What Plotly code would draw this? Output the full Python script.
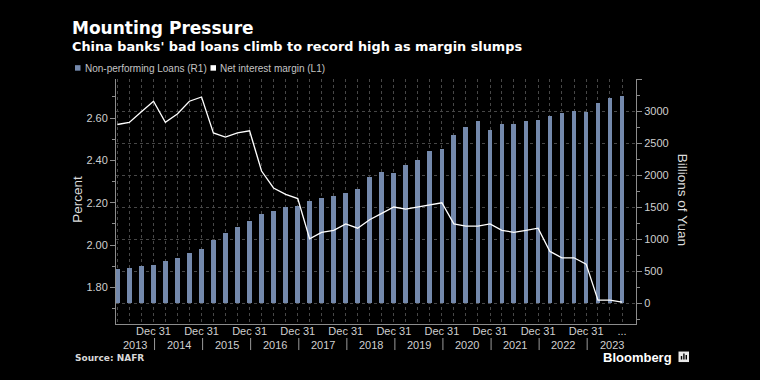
import plotly.graph_objects as go
import datetime as dt

# ---------------- data ----------------
quarter_ends = [f"{y}-{md}" for y in range(2013, 2024)
                for md in ["03-31", "06-30", "09-30", "12-31"]][:43]

npl_bn_yuan = [533, 549, 574, 600, 659, 706, 778, 847, 988, 1102, 1196, 1280,
               1400, 1443, 1500, 1521, 1589, 1646, 1672, 1719, 1785, 1965, 2043,
               2033, 2164, 2242, 2373, 2415, 2619, 2744, 2838, 2702, 2796, 2796,
               2838, 2854, 2917, 2964, 2995, 2989, 3121, 3199, 3230]

nim_pct = [2.57, 2.58, 2.63, 2.68, 2.58, 2.62, 2.68, 2.70, 2.53, 2.51, 2.53, 2.54,
           2.35, 2.27, 2.24, 2.22, 2.03, 2.06, 2.07, 2.10, 2.08, 2.12, 2.15, 2.18,
           2.17, 2.18, 2.19, 2.20, 2.10, 2.09, 2.09, 2.10, 2.07, 2.06, 2.07, 2.08,
           1.97, 1.94, 1.94, 1.91, 1.74, 1.74, 1.73]

year_labels = [str(y) for y in range(2013, 2024)]
right_ticks = [0, 500, 1000, 1500, 2000, 2500, 3000, 3500]
right_tick_text = ["0", "500", "1000", "1500", "2000", "2500", "3000", ""]

title = "Mounting Pressure"
subtitle = "China banks' bad loans climb to record high as margin slumps"
legend_npl = "Non-performing Loans (R1)"
legend_nim = "Net interest margin (L1)"
source = "Source: NAFR"

# ---------------- style ----------------
W, H = 760, 380
L, R, T, B = 116, 636, 79.3, 324
BAR_COLOR = "#7489ac"
AXIS_COLOR = "#8c8c8c"
GRID_COLOR = "#474747"
TICK_FONT = dict(family="Liberation Sans, Arial", size=11, color="#cfcfcf")
X_START, X_END = "2013-03-21", "2024-01-14"


def px(p):
    return (p - L) / (R - L)


def py(p):
    return (B - p) / (B - T)


x_ticktext = []
for i, d in enumerate(quarter_ends):
    if i == len(quarter_ends) - 1:
        x_ticktext.append("...")
    elif d.endswith("12-31"):
        x_ticktext.append("Dec 31")
    else:
        x_ticktext.append("")

fig = go.Figure()
fig.add_trace(go.Bar(
    x=quarter_ends, y=npl_bn_yuan, yaxis="y", name=legend_npl,
    marker=dict(color=BAR_COLOR, line=dict(width=0)),
    width=36 * 86400000, showlegend=False,
))
fig.add_trace(go.Scatter(
    x=quarter_ends, y=nim_pct, yaxis="y2", name=legend_nim, mode="lines",
    line=dict(color="#ffffff", width=1.3), showlegend=False,
))

fig.update_layout(
    width=W, height=H,
    margin=dict(l=L, r=W - R, t=T, b=H - B, pad=0),
    paper_bgcolor="#000000", plot_bgcolor="#000000",
    bargap=0,
    xaxis=dict(
        type="date", range=[X_START, X_END],
        tickmode="array", tickvals=quarter_ends, ticktext=x_ticktext,
        tickangle=0, ticks="", showgrid=True, gridcolor=GRID_COLOR,
        griddash="dot", gridwidth=1, showline=True, linecolor=AXIS_COLOR,
        linewidth=1, tickfont=TICK_FONT, zeroline=False,
        ticklabelstandoff=-3,
    ),
    yaxis=dict(
        side="right", range=[-325, 3500],
        tickmode="array", tickvals=right_ticks, ticktext=right_tick_text,
        showgrid=True, gridcolor=GRID_COLOR, griddash="dot", gridwidth=1,
        showline=True, linecolor=AXIS_COLOR, linewidth=1,
        ticks="outside", ticklen=5, tickcolor=AXIS_COLOR, tickfont=TICK_FONT,
        zeroline=False,
        minor=dict(dtick=250, tick0=0, ticks="outside", ticklen=3,
                   tickcolor=AXIS_COLOR, showgrid=False),
    ),
    yaxis2=dict(
        overlaying="y", side="left", range=[1.627, 2.785],
        tick0=1.8, dtick=0.2, tickformat=".2f",
        showgrid=False, showline=True, linecolor=AXIS_COLOR, linewidth=1,
        ticks="outside", ticklen=5, tickcolor=AXIS_COLOR, tickfont=TICK_FONT,
        zeroline=False,
        minor=dict(dtick=0.1, tick0=1.8, ticks="outside", ticklen=3,
                   tickcolor=AXIS_COLOR, showgrid=False),
    ),
)

annotations = []
shapes = []

# titles
annotations.append(dict(text=f"<b>{title}</b>", x=px(70), y=py(28.5),
                        xref="paper", yref="paper", xanchor="left", yanchor="middle",
                        showarrow=False,
                        font=dict(family="DejaVu Sans", size=17, color="#ffffff")))
annotations.append(dict(text=f"<b>{subtitle}</b>", x=px(70), y=py(46.5),
                        xref="paper", yref="paper", xanchor="left", yanchor="middle",
                        showarrow=False,
                        font=dict(family="DejaVu Sans", size=12.85, color="#ffffff")))

# legend
LEG_FONT = dict(family="Liberation Sans, Arial", size=10, color="#c4c4c4")
shapes.append(dict(type="rect", xref="paper", yref="paper",
                   x0=px(75), x1=px(80.5), y0=py(71), y1=py(65.5),
                   fillcolor=BAR_COLOR, line=dict(width=0)))
annotations.append(dict(text=legend_npl, x=px(82.5), y=py(68.5), xref="paper",
                        yref="paper", xanchor="left", yanchor="middle",
                        showarrow=False, font=LEG_FONT))
shapes.append(dict(type="rect", xref="paper", yref="paper",
                   x0=px(210.5), x1=px(216), y0=py(71), y1=py(65.5),
                   fillcolor="#ffffff", line=dict(width=0)))
annotations.append(dict(text=legend_nim, x=px(218), y=py(68.5), xref="paper",
                        yref="paper", xanchor="left", yanchor="middle",
                        showarrow=False, font=LEG_FONT))

# axis titles
annotations.append(dict(text="Percent", x=px(78), y=py(200), xref="paper",
                        yref="paper", xanchor="center", yanchor="middle",
                        textangle=-90, showarrow=False,
                        font=dict(family="Liberation Sans, Arial", size=13.5,
                                  color="#dcdcdc")))
annotations.append(dict(text="Billions of Yuan", x=px(682), y=py(200), xref="paper",
                        yref="paper", xanchor="center", yanchor="middle",
                        textangle=90, showarrow=False,
                        font=dict(family="Liberation Sans, Arial", size=13.5,
                                  color="#dcdcdc")))

# year labels and dividers under the x axis
d_start = dt.date.fromisoformat(X_START)
d_end = dt.date.fromisoformat(X_END)
dividers = [dt.date(int(y), 12, 31) + dt.timedelta(days=8) for y in year_labels[:-1]]
bounds = [d_start] + dividers + [d_end]
for i, lab in enumerate(year_labels):
    a, b = bounds[i], bounds[i + 1]
    mid = a + (b - a) / 2
    annotations.append(dict(text=lab, x=mid.isoformat(), y=py(344.5), xref="x",
                            yref="paper", xanchor="center", yanchor="middle",
                            showarrow=False, font=TICK_FONT))
for d in dividers:
    shapes.append(dict(type="line", xref="x", yref="paper",
                       x0=d.isoformat(), x1=d.isoformat(), y0=py(338), y1=py(350),
                       line=dict(color="#9a9a9a", width=1)))

# source & branding
annotations.append(dict(text=f"<b>{source}</b>", x=px(72.5), y=py(358), xref="paper",
                        yref="paper", xanchor="left", yanchor="middle",
                        showarrow=False,
                        font=dict(family="DejaVu Sans", size=9, color="#d8d8d8")))
annotations.append(dict(text="<b>Bloomberg</b>", x=px(674), y=py(357), xref="paper",
                        yref="paper", xanchor="right", yanchor="middle",
                        showarrow=False,
                        font=dict(family="Liberation Sans, Arial", size=13,
                                  color="#ffffff")))
shapes.append(dict(type="rect", xref="paper", yref="paper",
                   x0=px(678.5), x1=px(689), y0=py(362), y1=py(351.5),
                   fillcolor="#e8e8e8", line=dict(width=0)))
for bx0, bh in [(680.8, 3.5), (683.2, 6), (685.6, 4.5)]:
    shapes.append(dict(type="rect", xref="paper", yref="paper",
                       x0=px(bx0), x1=px(bx0 + 1.4), y0=py(359.5), y1=py(359.5 - bh),
                       fillcolor="#000000", line=dict(width=0)))

fig.update_layout(annotations=annotations, shapes=shapes)
fig.write_html(
    "out.html",
    config={"displayModeBar": False},
    post_script="document.body.style.margin='0';"
                "document.body.style.padding='0';"
                "document.body.style.background='#000';"
                "document.documentElement.style.background='#000';",
)
